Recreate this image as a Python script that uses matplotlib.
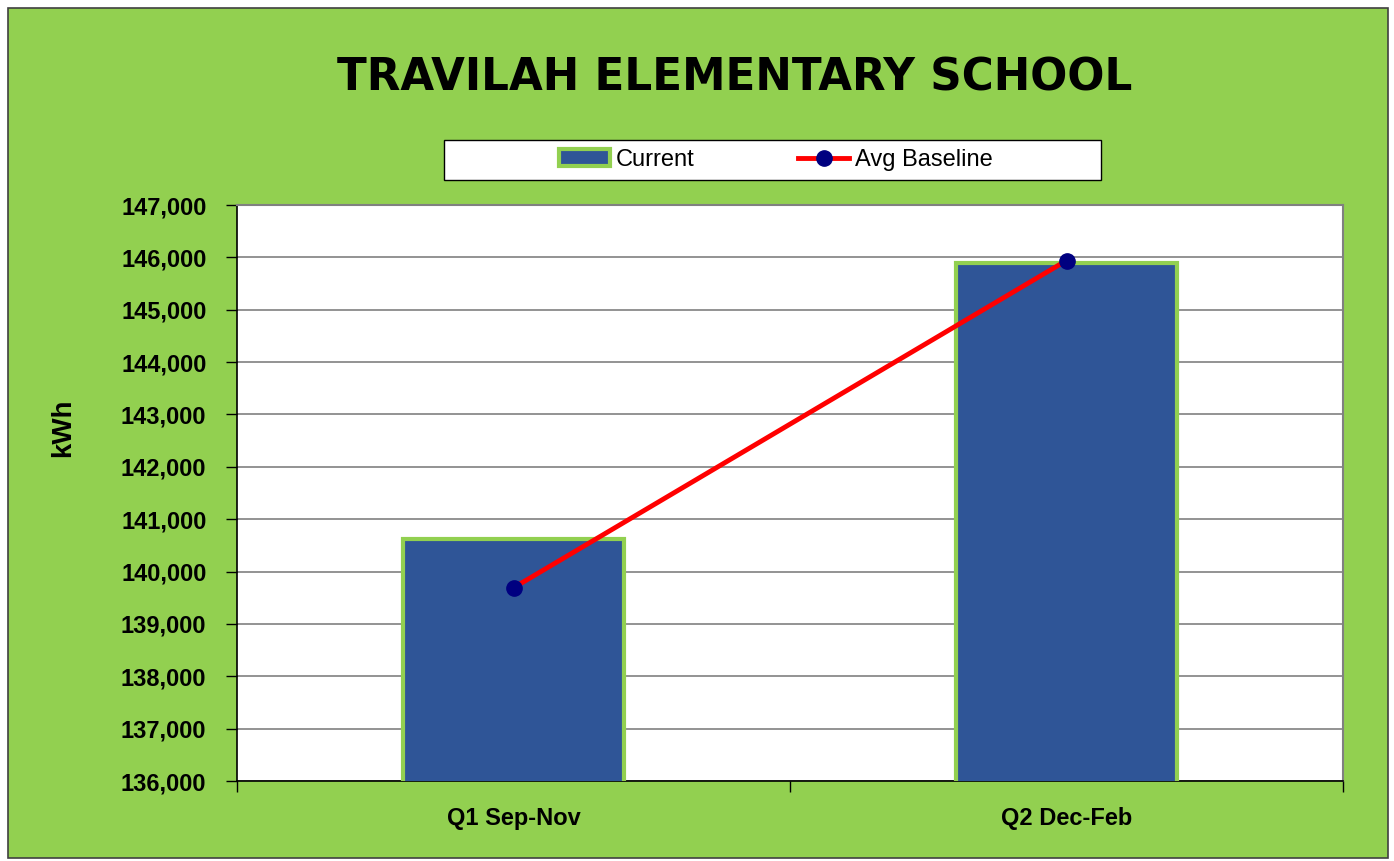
import matplotlib
matplotlib.use("Agg")
import matplotlib.pyplot as plt
from matplotlib.patches import Rectangle
from matplotlib.ticker import FuncFormatter, FixedLocator

categories = ["Q1 Sep-Nov", "Q2 Dec-Feb"]
current = [140620, 145900]
avg_baseline = [139690, 145940]
y_ticks = list(range(136000, 147001, 1000))

W, H = 1394, 861
fig = plt.figure(figsize=(W / 100, H / 100), dpi=100)
fig.patch.set_facecolor("white")
fig.patches.append(Rectangle((8 / W, 3 / H), 1380 / W, 850 / H, transform=fig.transFigure,
                             facecolor="#92D050", edgecolor="#404040", linewidth=1.2, zorder=-10))
# legend box
fig.patches.append(Rectangle((444 / W, 1 - 180 / H), 657 / W, 40 / H, transform=fig.transFigure,
                             facecolor="white", edgecolor="black", linewidth=1.0, zorder=-5))

ax = fig.add_axes([237 / W, 1 - 781 / H, (1343 - 237) / W, (781 - 205) / H])
ax.set_facecolor("white")
x = list(range(len(categories)))
bars = ax.bar(x, current, width=0.40, bottom=0, color="#2F5597", edgecolor="#92D050", linewidth=3,
              zorder=3, label="Current")
line, = ax.plot(x, avg_baseline, color="#FF0000", linewidth=3.5, marker="o", markersize=11,
                markerfacecolor="#000080", markeredgecolor="#000080", zorder=4, label="Avg Baseline")

ax.set_xlim(-0.5, 1.5)
ax.set_ylim(136000, 147000)
ax.yaxis.set_major_locator(FixedLocator(y_ticks))
ax.yaxis.set_major_formatter(FuncFormatter(lambda v, p: f"{int(v):,}"))
ax.grid(axis="y", color="#808080", linewidth=1.2, zorder=0)
ax.set_axisbelow(True)

ax.set_xticks([-0.5, 0.5, 1.5])
ax.set_xticklabels([])
ax.set_xticks(x, minor=True)
ax.set_xticklabels(categories, minor=True, fontfamily="Liberation Sans", fontweight="bold", fontsize=17)
ax.tick_params(axis="x", which="minor", length=0, pad=19)
ax.tick_params(axis="x", which="major", length=8, width=1, direction="out", color="black")
ax.tick_params(axis="y", length=8, width=1, direction="out", color="black", pad=14)
for lbl in ax.get_yticklabels():
    lbl.set_fontfamily("Liberation Sans")
    lbl.set_fontweight("bold")
    lbl.set_fontsize(17)

for s in ["left", "bottom"]:
    ax.spines[s].set_color("black")
    ax.spines[s].set_linewidth(1.2)
for s in ["top", "right"]:
    ax.spines[s].set_color("#808080")
    ax.spines[s].set_linewidth(1.5)

fig.text(63 / W, 1 - 428 / H, "kWh", rotation=90, ha="center", va="center",
         fontfamily="Liberation Sans", fontweight="bold", fontsize=20)

fig.text(735 / W, 1 - 78 / H, "TRAVILAH ELEMENTARY SCHOOL", ha="center", va="center",
         fontfamily="DejaVu Sans", fontweight="bold", fontsize=31.4)

leg = fig.legend(handles=[bars, line], labels=["Current", "Avg Baseline"],
                 loc="center", bbox_to_anchor=(776 / W, 1 - 160 / H), ncol=2,
                 prop={"family": "Liberation Sans", "size": 17}, frameon=False,
                 columnspacing=4.4, handlelength=2.15, handletextpad=0.25, borderpad=0.3)

fig.savefig("out.png", dpi=100, facecolor=fig.get_facecolor())
